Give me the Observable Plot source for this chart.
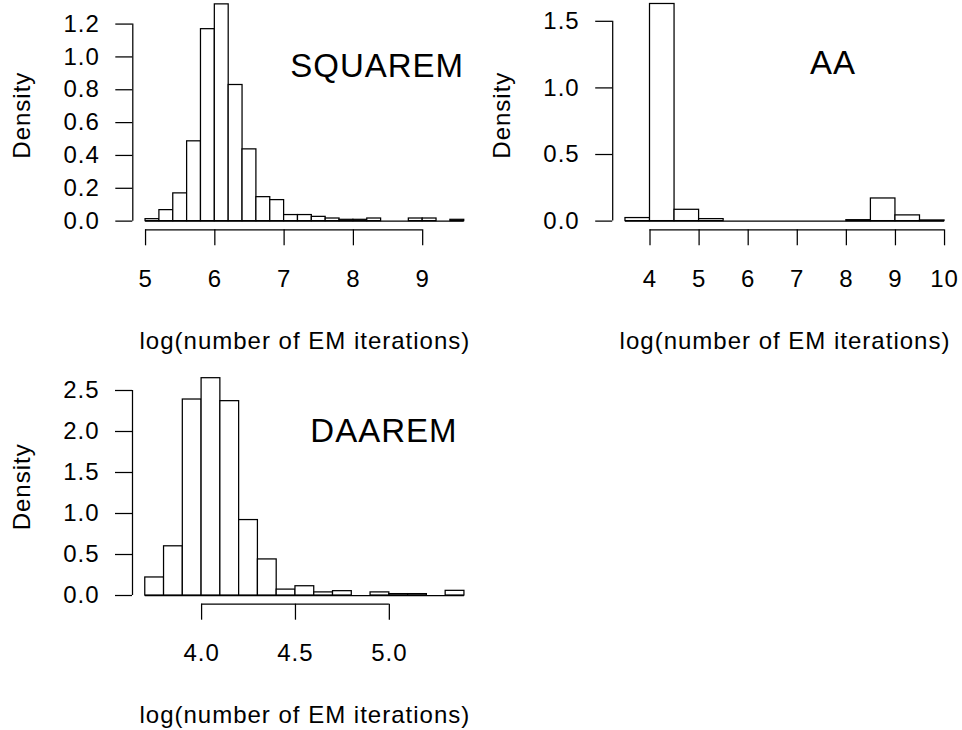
<!DOCTYPE html>
<html>
<head>
<meta charset="utf-8">
<script src="https://cdn.jsdelivr.net/npm/d3@7"></script>
<script src="https://cdn.jsdelivr.net/npm/@observablehq/plot@0.6"></script>
<style>
  body { margin: 0; background: #fff; }
  #fig { position: relative; width: 962px; height: 730px; overflow: hidden; background: #fff; }
  #fig > svg { position: absolute; }
</style>
</head>
<body>
<div id="fig"></div>
<script>
// ---- SQUAREM ----
const squaremBinStart = [5.0, 5.2, 5.4, 5.6, 5.8, 6.0, 6.2, 6.4, 6.6, 6.8, 7.0, 7.2, 7.4, 7.6, 7.8, 8.0, 8.2, 8.4, 8.6, 8.8, 9.0, 9.2, 9.4];
const squaremDensity  = [0.012, 0.067, 0.169, 0.486, 1.169, 1.320, 0.829, 0.437, 0.146, 0.128, 0.037, 0.037, 0.026, 0.016, 0.008, 0.008, 0.016, 0, 0, 0.016, 0.016, 0, 0.008];
const squaremBinWidth = 0.2;
const squaremXTicks = [5, 6, 7, 8, 9];
const squaremXTickLabels = ["5", "6", "7", "8", "9"];
const squaremYTicks = [0, 0.2, 0.4, 0.6, 0.8, 1.0, 1.2];
const squaremYTickLabels = ["0.0", "0.2", "0.4", "0.6", "0.8", "1.0", "1.2"];

// ---- AA ----
const aaBinStart = [3.5, 4.0, 4.5, 5.0, 5.5, 6.0, 6.5, 7.0, 7.5, 8.0, 8.5, 9.0, 9.5];
const aaDensity  = [0.023, 1.630, 0.085, 0.015, 0, 0, 0, 0, 0, 0.007, 0.170, 0.043, 0.005];
const aaBinWidth = 0.5;
const aaXTicks = [4, 5, 6, 7, 8, 9, 10];
const aaXTickLabels = ["4", "5", "6", "7", "8", "9", "10"];
const aaYTicks = [0, 0.5, 1.0, 1.5];
const aaYTickLabels = ["0.0", "0.5", "1.0", "1.5"];

// ---- DAAREM ----
const daaremBinStart = [3.7, 3.8, 3.9, 4.0, 4.1, 4.2, 4.3, 4.4, 4.5, 4.6, 4.7, 4.8, 4.9, 5.0, 5.1, 5.2, 5.3];
const daaremDensity  = [0.22, 0.60, 2.39, 2.65, 2.37, 0.92, 0.44, 0.072, 0.113, 0.038, 0.053, 0, 0.038, 0.017, 0.017, 0, 0.057];
const daaremBinWidth = 0.1;
const daaremXTicks = [4.0, 4.5, 5.0];
const daaremXTickLabels = ["4.0", "4.5", "5.0"];
const daaremYTicks = [0, 0.5, 1.0, 1.5, 2.0, 2.5];
const daaremYTickLabels = ["0.0", "0.5", "1.0", "1.5", "2.0", "2.5"];

const panelNames = ["SQUAREM", "AA", "DAAREM"];
const panelLabelX = [8.343, 7.73, 4.971];
const panelLabelY = [0.943, 1.18, 2.0];
const xTitle = "log(number of EM iterations)";
const yTitle = "Density";

const W = 481, H = 365;
const FONT = "'Liberation Sans', Arial, Helvetica, sans-serif";
const LW = 1.25;

function panel(cfg) {
  const bins = cfg.starts.map((s, i) => ({x1: s, x2: s + cfg.width, y: cfg.density[i]}));
  const lo = cfg.starts[0];
  const hi = cfg.starts[cfg.starts.length - 1] + cfg.width;
  const ymax = d3.max(cfg.density);
  const ux = [lo - 0.04 * (hi - lo), hi + 0.04 * (hi - lo)];
  const uy = [-0.04 * ymax, ymax * 1.04];
  const r = cfg.region;
  const fmt = (ticks, labels) => d => labels[ticks.indexOf(d)];
  return Plot.plot({
    width: W,
    height: H,
    marginLeft: r.left,
    marginRight: W - r.right,
    marginTop: Math.max(0, r.top),
    marginBottom: H - r.bottom,
    x: {domain: ux, range: [r.left, r.right]},
    y: {domain: uy, range: [r.bottom, r.top]},
    style: {fontFamily: FONT, fontSize: "24px", letterSpacing: "1px", color: "#000", background: "#fff", overflow: "visible"},
    marks: [
      Plot.ruleY([0], {x1: lo, x2: hi, stroke: "#000", strokeWidth: LW}),
      Plot.rect(bins, {x1: "x1", x2: "x2", y1: 0, y2: "y", fill: "#fff", stroke: "#000", strokeWidth: LW}),
      Plot.ruleY([uy[0]], {x1: cfg.xTicks[0], x2: cfg.xTicks[cfg.xTicks.length - 1], stroke: "#000", strokeWidth: LW}),
      Plot.ruleX([ux[0]], {y1: cfg.yTicks[0], y2: cfg.yTicks[cfg.yTicks.length - 1], stroke: "#000", strokeWidth: LW}),
      Plot.axisX({ticks: cfg.xTicks, tickFormat: fmt(cfg.xTicks, cfg.xLabels), tickSize: 16, tickPadding: 24, fontSize: 24, strokeWidth: LW, label: null}),
      Plot.axisY({ticks: cfg.yTicks, tickFormat: fmt(cfg.yTicks, cfg.yLabels), tickSize: 17, tickPadding: 16, fontSize: 24, strokeWidth: LW, label: null}),
      Plot.text([cfg.name], {x: cfg.labelX, y: cfg.labelY, textAnchor: "middle", lineAnchor: "middle", fontSize: 33, fill: "#000", style: "letter-spacing:0.6px"}),
      Plot.text([xTitle], {frameAnchor: "bottom", dy: cfg.titleDy, lineAnchor: "middle", fontSize: 24, fill: "#000"}),
      Plot.text([yTitle], {frameAnchor: "left", dx: cfg.yTitleDx, rotate: -90, textAnchor: "middle", lineAnchor: "middle", fontSize: 24, fill: "#000"})
    ]
  });
}

const fig = document.getElementById("fig");

const p1 = panel({
  name: panelNames[0], labelX: panelLabelX[0], labelY: panelLabelY[0],
  starts: squaremBinStart, density: squaremDensity, width: squaremBinWidth,
  xTicks: squaremXTicks, xLabels: squaremXTickLabels, yTicks: squaremYTicks, yLabels: squaremYTickLabels,
  region: {left: 132.3, right: 476.5, top: -4.8, bottom: 229.3}, titleDy: 111.5, yTitleDx: -110.3
});
p1.style.left = "0px"; p1.style.top = "0px";
fig.appendChild(p1);

const p2 = panel({
  name: panelNames[1], labelX: panelLabelX[1], labelY: panelLabelY[1],
  starts: aaBinStart, density: aaDensity, width: aaBinWidth,
  xTicks: aaXTicks, xLabels: aaXTickLabels, yTicks: aaYTicks, yLabels: aaYTickLabels,
  region: {left: 131.2, right: 475.8, top: -5.2, bottom: 229.3}, titleDy: 111.5, yTitleDx: -110.2
});
p2.style.left = "481px"; p2.style.top = "0px";
fig.appendChild(p2);

const p3 = panel({
  name: panelNames[2], labelX: panelLabelX[2], labelY: panelLabelY[2],
  starts: daaremBinStart, density: daaremDensity, width: daaremBinWidth,
  xTicks: daaremXTicks, xLabels: daaremXTickLabels, yTicks: daaremYTicks, yLabels: daaremYTickLabels,
  region: {left: 132.0, right: 476.7, top: 4.0, bottom: 238.7}, titleDy: 111, yTitleDx: -110
});
p3.style.left = "0px"; p3.style.top = "365px";
fig.appendChild(p3);
</script>
</body>
</html>
